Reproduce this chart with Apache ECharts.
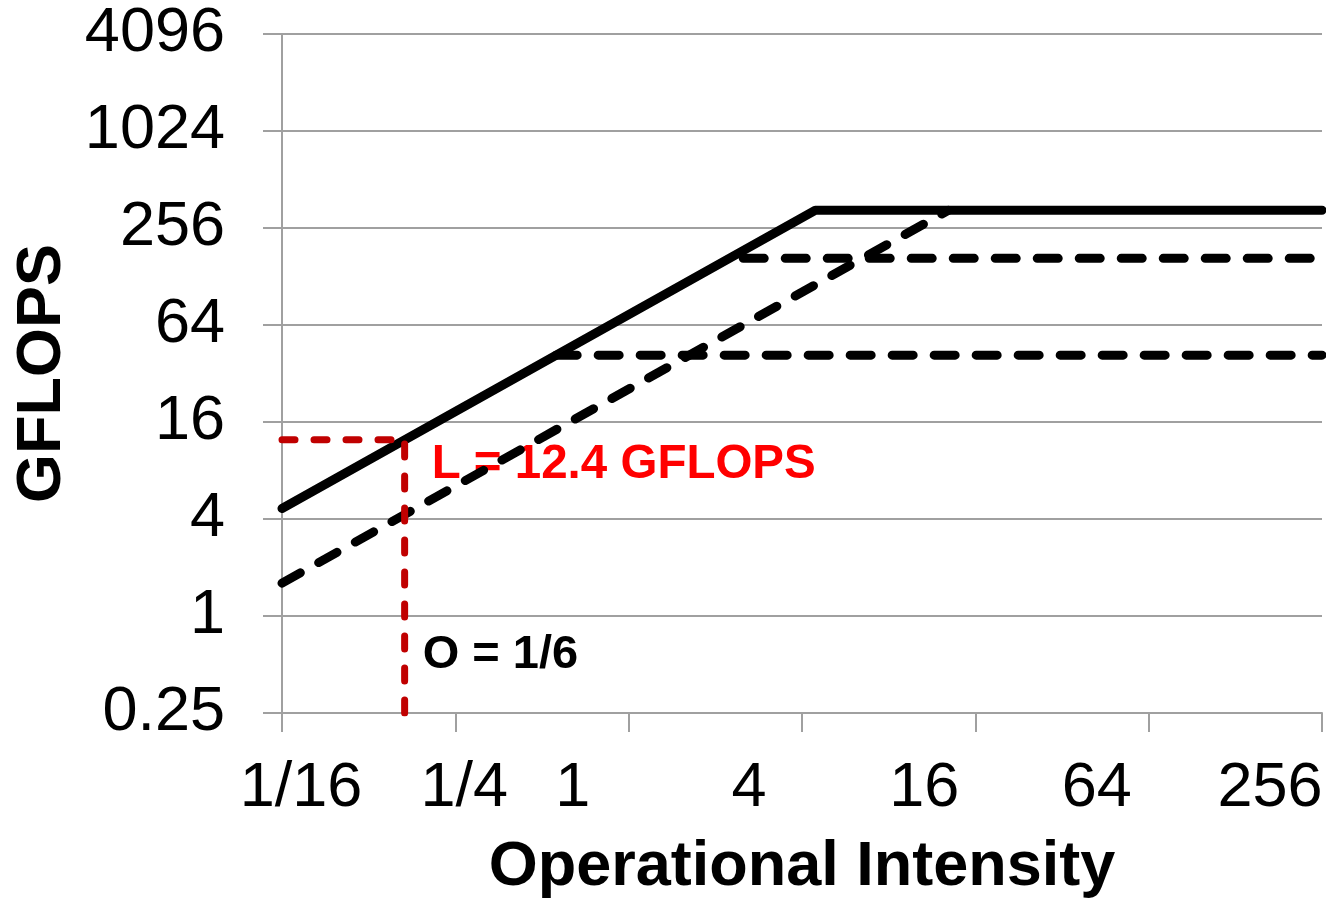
<!DOCTYPE html>
<html>
<head>
<meta charset="utf-8">
<script src="https://cdn.jsdelivr.net/npm/echarts@6/dist/echarts.min.js"></script>
<style>
html,body{margin:0;padding:0;background:#fff;}
#chart{width:1326px;height:905px;}
</style>
</head>
<body>
<div id="chart"></div>
<script>
// ---- data ----
const xTickLabels = ['1/16', '1/4', '1', '4', '16', '64', '256'];
const yTickLabels = ['0.25', '1', '4', '16', '64', '256', '1024', '4096'];
const xMin = 1 / 16, xMax = 256;
const yMin = 0.25, yMax = 4096;

// main roofline (solid)
const roofX = [0.0625, 4.45, 256];
const roofY = [4.65, 330, 330];
// lower-bandwidth roof (dashed)
const lowBwX = [0.0625, 12.9];
const lowBwY = [1.6, 330];
// compute ceilings (dashed)
const ceilAX = [2.5, 256];
const ceilAY = [166, 166];
const ceilBX = [0.56, 256];
const ceilBY = [41.6, 41.6];
// operating point
const opIntensity = 1 / 6;
const opIntensityLabel = '1/6';
const attainedGflops = 12.4;

// ---- styling ----
const FONT = '"Liberation Sans", Arial, sans-serif';
const GRID = '#a0a0a0';
const xLabelShift = [19, 9, -56, -53, -51, -52, -52];

function zip(xs, ys) { return xs.map((x, i) => [x, ys[i]]); }
function log4(v) { return Math.log(v) / Math.log(4); }

const rich = {};
xLabelShift.forEach((s, i) => {
  rich['t' + i] = {
    fontSize: 63, fontFamily: FONT, color: '#000',
    padding: s >= 0 ? [0, 0, 0, 2 * s] : [0, -2 * s, 0, 0]
  };
});

const blackDash = { color: '#000', width: 9, type: [21, 21], cap: 'round', join: 'round' };
const redDash = { color: '#c00000', width: 7, type: [13, 19], cap: 'round' };

const chart = echarts.init(document.getElementById('chart'), null, { renderer: 'canvas' });
chart.setOption({
  animation: false,
  backgroundColor: '#fff',
  grid: { left: 282, right: 4, top: 34, bottom: 192, containLabel: false },
  xAxis: {
    type: 'log', logBase: 4, min: xMin, max: xMax, interval: 1,
    name: 'Operational Intensity', nameLocation: 'middle', nameGap: 123,
    nameTextStyle: { fontSize: 63, fontWeight: 'bold', fontFamily: FONT, color: '#000' },
    axisLine: { show: true, lineStyle: { color: GRID, width: 2 } },
    axisTick: { show: true, length: 19, lineStyle: { color: GRID, width: 2 } },
    splitLine: { show: false },
    axisLabel: {
      margin: 44,
      formatter: function (v) {
        const i = Math.round(log4(v / xMin));
        return '{t' + i + '|' + xTickLabels[i] + '}';
      },
      rich: rich
    }
  },
  yAxis: {
    type: 'log', logBase: 4, min: yMin, max: yMax, interval: 1,
    name: 'GFLOPS', nameLocation: 'middle', nameGap: 208, nameRotate: 90,
    nameTextStyle: { fontSize: 63, fontWeight: 'bold', fontFamily: FONT, color: '#000' },
    axisLine: { show: true, lineStyle: { color: GRID, width: 2 } },
    axisTick: { show: true, length: 19, lineStyle: { color: GRID, width: 2 } },
    splitLine: { show: true, lineStyle: { color: GRID, width: 2 } },
    axisLabel: {
      margin: 57, fontSize: 63, fontFamily: FONT, color: '#000',
      formatter: function (v) {
        return yTickLabels[Math.round(log4(v / yMin))];
      }
    }
  },
  series: [
    {
      type: 'scatter', z: 1, symbolSize: 0, silent: true,
      itemStyle: { opacity: 1 },
      data: [[opIntensity, attainedGflops]],
      label: {
        show: true, position: 'right', distance: 0, offset: [27, 25], opacity: 1,
        formatter: 'L = ' + attainedGflops + ' GFLOPS',
        fontSize: 47.5, fontWeight: 'bold', fontFamily: FONT, color: '#ff0000'
      }
    },
    {
      type: 'scatter', z: 1, symbolSize: 0, silent: true,
      itemStyle: { opacity: 1 },
      data: [[opIntensity, yMin]],
      label: {
        show: true, position: 'right', distance: 0, offset: [18, -58], opacity: 1,
        formatter: 'O = ' + opIntensityLabel,
        fontSize: 47, fontWeight: 'bold', fontFamily: FONT, color: '#000'
      }
    },
    { type: 'line', z: 3, symbol: 'none', data: zip(lowBwX, lowBwY), lineStyle: blackDash },
    { type: 'line', z: 3, symbol: 'none', data: zip(ceilAX, ceilAY), lineStyle: blackDash },
    { type: 'line', z: 3, symbol: 'none', data: zip(ceilBX, ceilBY), lineStyle: blackDash },
    { type: 'line', z: 4, symbol: 'none', data: zip(roofX, roofY),
      lineStyle: { color: '#000', width: 9, join: 'round', cap: 'round' } },
    { type: 'line', z: 5, symbol: 'none', data: [[xMin, attainedGflops], [opIntensity, attainedGflops]], lineStyle: redDash },
    { type: 'line', z: 5, symbol: 'none', data: [[opIntensity, yMin], [opIntensity, attainedGflops]], lineStyle: redDash }
  ]
});
</script>
</body>
</html>
